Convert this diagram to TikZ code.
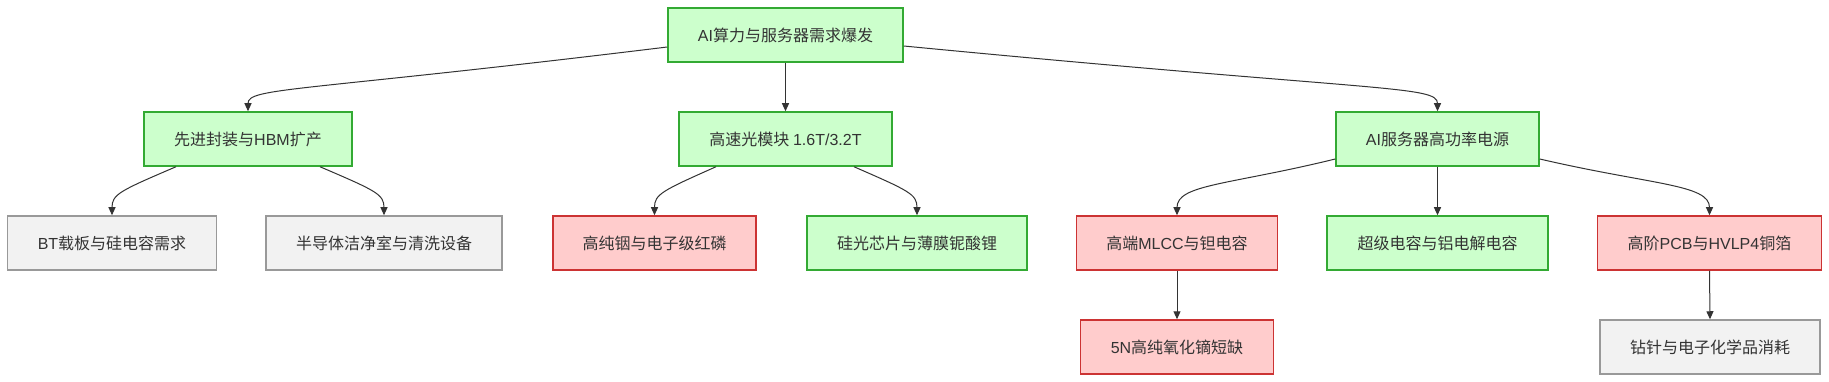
\documentclass[tikz,border=0pt]{standalone}
\usepackage{fontspec}
\setmainfont{Noto Sans CJK SC}
\newfontfamily\latfont{Liberation Sans}
\newcommand{\lat}[1]{{\latfont #1}}
\usetikzlibrary{arrows.meta}
\definecolor{txtgray}{HTML}{333333}
\definecolor{greenfill}{HTML}{CCFFCC}
\definecolor{greenline}{HTML}{33AA33}
\definecolor{redfill}{HTML}{FFCCCC}
\definecolor{redline}{HTML}{CC3333}
\definecolor{grayfill}{HTML}{F2F2F2}
\definecolor{grayline}{HTML}{999999}
\begin{document}
\begin{tikzpicture}[x=1pt, y=-1pt,
    box/.style={rectangle, line width=1.5pt, minimum height=54pt, inner sep=0pt,
        font=\fontsize{16}{19}\selectfont, text=txtgray},
    goodbox/.style={box, draw=greenline, fill=greenfill},
    riskbox/.style={box, draw=redline, fill=redfill},
    plainbox/.style={box, draw=grayline, fill=grayfill},
    link/.style={draw=txtgray, line width=1pt, -{Triangle[length=8pt,width=7pt]}}]
    \useasboundingbox[fill=white] (0,0) rectangle (1829,382);

    % Top level
    \node[goodbox, minimum width=235pt] (root) at (785.5,35) {\lat{AI}算力与服务器需求爆发};

    % Second level
    \node[goodbox, minimum width=208pt] (hbm) at (248,139) {先进封装与\lat{HBM}扩产};
    \node[goodbox, minimum width=213pt] (optic) at (785.5,139) {高速光模块 \lat{1.6T/3.2T}};
    \node[goodbox, minimum width=203pt] (power) at (1437.5,139) {\lat{AI}服务器高功率电源};

    % Third level
    \node[plainbox, minimum width=209pt] (bt) at (112,243) {\lat{BT}载板与硅电容需求};
    \node[plainbox, minimum width=236pt] (clean) at (384,243) {半导体洁净室与清洗设备};
    \node[riskbox, minimum width=203pt] (indium) at (654.5,243) {高纯铟与电子级红磷};
    \node[goodbox, minimum width=220pt] (silicon) at (917,243) {硅光芯片与薄膜铌酸锂};
    \node[riskbox, minimum width=201pt] (mlcc) at (1177,243) {高端\lat{MLCC}与钽电容};
    \node[goodbox, minimum width=221pt] (supercap) at (1437.5,243) {超级电容与铝电解电容};
    \node[riskbox, minimum width=224pt] (pcb) at (1709.5,243) {高阶\lat{PCB}与\lat{HVLP4}铜箔};

    % Fourth level
    \node[riskbox, minimum width=193pt] (dy) at (1177,347) {\lat{5N}高纯氧化镝短缺};
    \node[plainbox, minimum width=220pt] (drill) at (1710,347) {钻针与电子化学品消耗};

    % Links from the top
    \draw[link] ([yshift=-12pt]root.west) .. controls +(-368,45) and +(0,-24) .. (hbm.north);
    \draw[link] (root.south) -- (optic.north);
    \draw[link] ([yshift=-11pt]root.east) .. controls +(477,46) and +(0,-26) .. (power.north);

    % Links from the second level
    \draw[link] ([xshift=-72pt]hbm.south) .. controls +(-56,24) and +(0,-21) .. (bt.north);
    \draw[link] ([xshift=72pt]hbm.south) .. controls +(56,24) and +(0,-21) .. (clean.north);
    \draw[link] ([xshift=-69.5pt]optic.south) .. controls +(-54,24) and +(0,-21) .. (indium.north);
    \draw[link] ([xshift=68.5pt]optic.south) .. controls +(55,24) and +(0,-21) .. (silicon.north);
    \draw[link] ([yshift=-20pt]power.west) .. controls +(-106,26) and +(0,-31) .. (mlcc.north);
    \draw[link] (power.south) -- (supercap.north);
    \draw[link] ([yshift=-20pt]power.east) .. controls +(112,26) and +(0,-31) .. (pcb.north);

    % Links from the third level
    \draw[link] (mlcc.south) -- (dy.north);
    \draw[link] (pcb.south) -- (drill.north);
\end{tikzpicture}
\end{document}
